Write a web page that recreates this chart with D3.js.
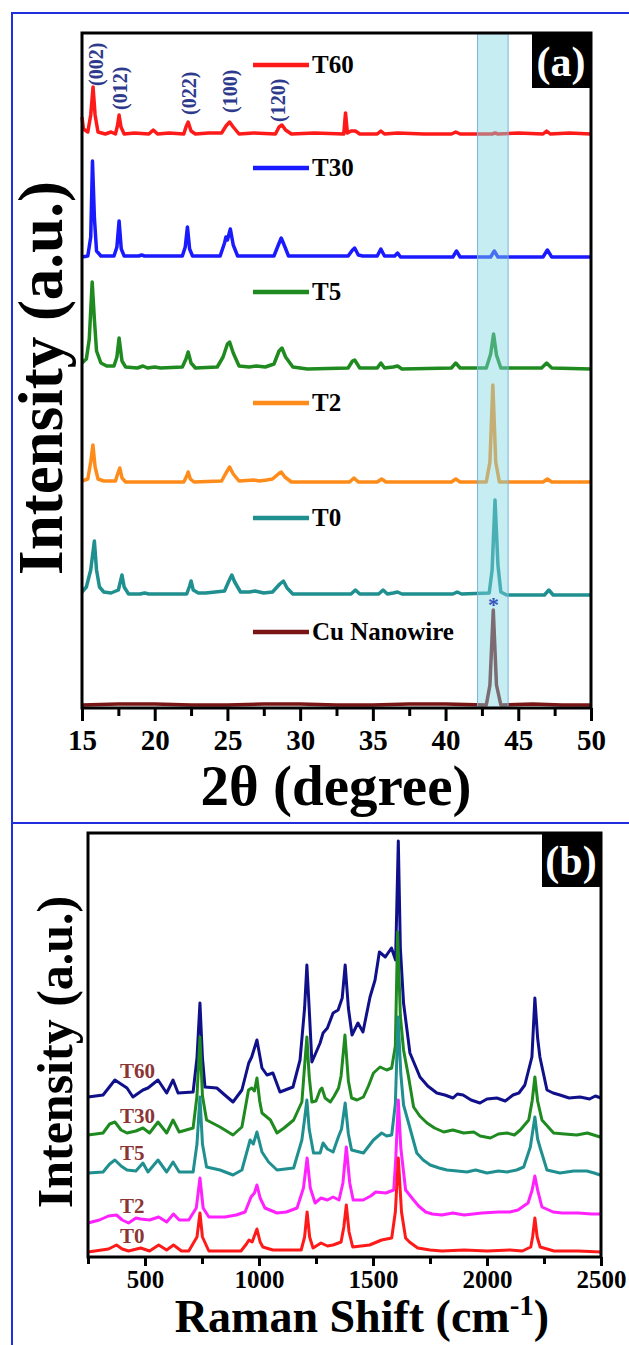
<!DOCTYPE html>
<html>
<head>
<meta charset="utf-8">
<script src="https://cdn.jsdelivr.net/npm/d3@7"></script>
<style>
  body { margin: 0; background: #fff; }
  text { font-family: "Liberation Serif", "Times New Roman", serif; font-weight: bold; }
</style>
</head>
<body>
<svg id="fig" width="629" height="1345"></svg>
<script>
// ---------- (a) XRD data: [2theta, intensity above own baseline] ----------
let xrdNames = ['T60', 'T30', 'T5', 'T2', 'T0', 'Cu Nanowire'];
let xrdOffsets = [573, 451, 339, 226, 113, 3];

let xrdT60 = [[15.0, 18], [15.1, 6], [15.4, 3], [15.6, 20], [15.76, 48], [15.9, 20], [16.1, 3], [16.6, 1], [17.0, 3], [17.3, 1],
  [17.45, 10], [17.55, 20], [17.68, 8], [17.9, 1], [18.6, 2], [19.6, 1], [19.9, 5], [20.2, 1], [21.0, 2], [22.0, 1], [22.15, 8], [22.3, 13],
  [22.5, 4], [22.8, 1], [23.7, 2], [24.6, 2], [24.9, 9], [25.15, 13], [25.4, 8], [25.8, 1], [26.8, 2], [28.3, 1], [28.55, 8], [28.75, 10],
  [29.0, 5], [29.4, 1], [31.0, 2], [33.0, 1], [33.12, 22], [33.25, 2], [33.5, 4], [33.8, 4], [34.1, 1], [35.3, 1], [35.55, 4], [35.8, 1],
  [36.7, 2], [38.5, 1], [40.4, 1], [40.7, 3], [41.0, 1], [43.2, 1], [43.4, 2], [43.6, 1], [45.0, 2], [46.7, 1], [46.95, 4], [47.2, 1],
  [48.5, 2], [50, 1]];
let xrdT30 = [[15.0, 0], [15.4, 1], [15.6, 20], [15.72, 96], [15.85, 40], [16.0, 6], [16.3, 1], [17.2, 1], [17.4, 10], [17.55, 36],
  [17.7, 8], [17.9, 1], [18.9, 1], [19.1, 2], [19.3, 1], [21.9, 1], [22.1, 10], [22.25, 30], [22.4, 8], [22.6, 1], [24.5, 1], [24.8, 14],
  [24.9, 20], [25.0, 17], [25.2, 28], [25.4, 12], [25.7, 1], [28.2, 1], [28.5, 12], [28.7, 19], [28.9, 12], [29.2, 1], [33.3, 1],
  [33.6, 7], [33.75, 9], [34.0, 2], [34.3, 1], [35.3, 1], [35.55, 8], [35.8, 1], [36.5, 1], [36.7, 4], [36.9, 0], [40.5, 0], [40.75, 6],
  [41.0, 0], [43.1, 0], [43.35, 6], [43.6, 0], [46.7, 0], [47.0, 7], [47.3, 0], [50, 0]];
let xrdT5 = [[15.0, 6], [15.3, 10], [15.5, 30], [15.7, 87], [15.85, 50], [16.0, 18], [16.3, 6], [16.7, 3], [17.2, 3], [17.4, 12],
  [17.55, 31], [17.75, 8], [18.0, 2], [18.8, 1], [19.2, 3], [19.5, 1], [20.0, 2], [20.4, 1], [21.9, 2], [22.15, 10], [22.3, 17],
  [22.5, 6], [22.8, 1], [24.3, 2], [24.7, 12], [25.0, 25], [25.15, 27], [25.4, 16], [25.8, 3], [26.5, 2], [27.0, 3], [27.6, 2],
  [28.2, 5], [28.55, 18], [28.75, 21], [29.0, 12], [29.5, 2], [30.5, 0], [33.3, 1], [33.6, 8], [33.75, 9], [34.1, 1], [35.3, 1],
  [35.55, 6], [35.8, 1], [36.4, 2], [36.7, 3], [37.0, 0], [40.4, 1], [40.7, 6], [41.0, 1], [42.8, 1], [43.1, 15], [43.3, 35],
  [43.5, 14], [43.8, 1], [46.6, 1], [46.95, 6], [47.3, 1], [50, 0]];
let xrdT2 = [[15.0, 1], [15.4, 3], [15.6, 20], [15.75, 37], [15.9, 15], [16.1, 3], [16.5, 1], [17.3, 1], [17.45, 8], [17.6, 14],
  [17.75, 4], [18.0, 0], [22.0, 0], [22.2, 6], [22.3, 10], [22.45, 3], [22.7, 0], [24.6, 1], [24.9, 9], [25.15, 15], [25.4, 8],
  [25.8, 1], [26.8, 2], [27.2, 1], [27.7, 2], [28.1, 3], [28.5, 8], [28.7, 10], [28.95, 5], [29.4, 0], [33.4, 0], [33.7, 4], [34.0, 0],
  [35.3, 0], [35.6, 3], [35.9, 0], [40.4, 0], [40.7, 3], [41.0, 0], [42.8, 0], [43.05, 20], [43.25, 97], [43.45, 20], [43.7, 0],
  [46.7, 0], [47.0, 3], [47.3, 0], [50, 0]];
let xrdT0 = [[15.0, 3], [15.3, 8], [15.6, 25], [15.85, 54], [16.0, 25], [16.2, 8], [16.5, 3], [17.0, 2], [17.5, 5], [17.75, 20],
  [17.9, 8], [18.2, 1], [19.0, 1], [19.3, 2], [19.6, 1], [20.3, 1], [22.2, 1], [22.4, 9], [22.5, 14], [22.65, 5], [23.0, 2], [23.5, 2],
  [24.8, 4], [25.1, 14], [25.3, 20], [25.5, 13], [25.9, 3], [26.5, 3], [26.9, 4], [27.5, 2], [28.1, 3], [28.6, 11], [28.85, 14],
  [29.1, 7], [29.5, 1], [33.5, 1], [33.8, 5], [34.1, 1], [35.4, 1], [35.7, 5], [36.0, 1], [36.4, 2], [36.7, 3], [37.0, 1], [40.5, 1],
  [40.8, 3], [41.1, 1], [43.0, 2], [43.2, 25], [43.4, 95], [43.6, 30], [43.8, 3], [44.2, 0], [46.8, 0], [47.1, 5], [47.4, 0], [50, 0]];
let xrdCu = [[15, 0], [17.5, 1], [20, 1], [22.5, 0], [25, 0], [27.5, 1], [30, 1], [32.5, 0], [35, 0], [37.5, 1], [40, 1], [42.8, 0],
  [43.05, 20], [43.28, 95], [43.5, 20], [43.8, 0], [46, 1], [48, 0], [50, 0]];
let xrdData = [xrdT60, xrdT30, xrdT5, xrdT2, xrdT0, xrdCu];

let millerLabels = ['(002)', '(012)', '(022)', '(100)', '(120)'];
let millerPos = [15.96, 17.6, 22.34, 25.2, 28.5];
let millerBase = [622, 598, 593, 595, 586];

let bandRange = [42.2, 44.3];
let xrdTicks = [15, 20, 25, 30, 35, 40, 45, 50];
let xrdMinor = [17.5, 22.5, 27.5, 32.5, 37.5, 42.5, 47.5];

// ---------- (b) Raman data: [shift, intensity above own baseline] ----------
let ramanNames = ['T60', 'T30', 'T5', 'T2', 'T0'];
let ramanOffsets = [159, 121, 83, 39, 5];

let ramanT60 = [[250, 1], [316, 3], [368, 18], [421, 10], [447, 1], [491, 8], [513, 10], [557, 18], [595, 5], [623, 18], [645, 5],
  [711, 6], [728, 40], [741, 95], [752, 40], [763, 11], [815, 10], [850, 3], [886, -4], [925, 8], [955, 35], [968, 41], [991, 58],
  [1013, 30], [1035, 23], [1061, 25], [1092, 6], [1149, 11], [1180, 38], [1200, 90], [1210, 133], [1220, 90], [1232, 36], [1268, 55],
  [1281, 65], [1300, 70], [1325, 85], [1347, 88], [1365, 100], [1378, 133], [1392, 90], [1408, 63], [1434, 75], [1456, 66], [1487, 101],
  [1509, 118], [1528, 146], [1554, 141], [1581, 150], [1599, 138], [1611, 257], [1620, 150], [1634, 95], [1662, 45], [1706, 21],
  [1740, 12], [1780, 5], [1815, 3], [1851, 0], [1870, 4], [1895, 3], [1930, -2], [1969, -5], [2000, -1], [2043, 0], [2080, -3],
  [2114, 3], [2140, 5], [2166, 13], [2197, 41], [2210, 100], [2222, 60], [2232, 41], [2263, 8], [2290, 5], [2320, 3], [2360, 0],
  [2408, 1], [2450, -1], [2475, 2], [2500, 0]];
let ramanT30 = [[250, 1], [316, 3], [345, 12], [368, 14], [395, 6], [421, 3], [460, 5], [491, 8], [520, 3], [557, 14], [595, 3],
  [623, 16], [650, 4], [711, 8], [728, 40], [741, 99], [752, 40], [770, 16], [829, 9], [886, 1], [925, 9], [954, 46], [968, 48],
  [980, 45], [991, 58], [1003, 35], [1013, 23], [1050, 16], [1079, 3], [1110, 8], [1152, 16], [1188, 34], [1200, 70], [1210, 99],
  [1220, 60], [1232, 34], [1250, 35], [1268, 46], [1276, 48], [1290, 38], [1313, 34], [1330, 40], [1349, 48], [1360, 60], [1377, 101],
  [1392, 55], [1406, 38], [1430, 36], [1458, 39], [1480, 50], [1502, 63], [1531, 69], [1560, 66], [1582, 68], [1598, 90], [1608, 204],
  [1620, 120], [1634, 86], [1656, 59], [1678, 29], [1705, 20], [1737, 13], [1770, 8], [1810, 4], [1850, 6], [1898, 3], [1942, 4],
  [1970, 0], [2015, -2], [2050, 2], [2088, 3], [2120, 1], [2146, 6], [2183, 16], [2198, 35], [2210, 59], [2222, 35], [2241, 16],
  [2292, 3], [2340, 2], [2394, 1], [2440, 3], [2496, -1], [2500, 0]];
let ramanT5 = [[250, 1], [316, 2], [345, 10], [368, 14], [395, 8], [421, 4], [460, 3], [491, 11], [513, 2], [557, 14], [595, 2],
  [623, 12], [650, 2], [711, 2], [728, 30], [741, 77], [752, 30], [770, 7], [829, 4], [886, -1], [925, 4], [961, 34], [975, 30],
  [991, 42], [1013, 22], [1042, 12], [1079, 4], [1152, 6], [1188, 34], [1200, 55], [1210, 74], [1220, 45], [1239, 21], [1268, 21],
  [1281, 31], [1300, 25], [1325, 22], [1348, 37], [1362, 45], [1378, 71], [1392, 40], [1406, 24], [1458, 21], [1502, 34], [1538, 41],
  [1560, 38], [1582, 39], [1598, 70], [1610, 157], [1622, 100], [1634, 69], [1656, 51], [1692, 21], [1720, 14], [1751, 9], [1790, 6],
  [1824, 4], [1870, 3], [1912, 2], [1950, 4], [2000, 1], [2050, 3], [2088, 2], [2130, 4], [2161, 7], [2190, 27], [2210, 57],
  [2222, 35], [2232, 27], [2263, 4], [2320, 1], [2380, 3], [2438, 3], [2470, 1], [2496, -1], [2500, 0]];
let ramanT2 = [[250, -5], [300, -2], [340, 2], [375, 3], [400, -2], [428, -5], [460, 0], [481, -1], [520, -2], [560, 1], [595, -4],
  [625, 4], [650, -2], [692, -2], [725, 10], [741, 40], [755, 10], [780, 1], [851, 1], [900, 3], [939, 6], [965, 21], [980, 25],
  [991, 33], [1005, 20], [1026, 10], [1079, 5], [1120, 6], [1167, 10], [1195, 30], [1211, 60], [1225, 30], [1246, 15], [1272, 20],
  [1300, 18], [1325, 21], [1351, 18], [1368, 35], [1383, 71], [1398, 35], [1413, 18], [1457, 18], [1490, 22], [1512, 26], [1556, 25],
  [1591, 28], [1600, 60], [1611, 118], [1622, 70], [1643, 28], [1678, 18], [1700, 12], [1731, 6], [1760, 4], [1802, 3], [1850, 5],
  [1900, 3], [1978, 5], [2050, 6], [2100, 6], [2136, 8], [2180, 15], [2198, 28], [2210, 42], [2222, 28], [2241, 11], [2290, 6],
  [2329, 5], [2400, 5], [2460, 4], [2500, 4]];
let ramanT0 = [[250, 0], [340, 3], [375, 7], [400, 3], [428, 1], [481, 4], [520, 1], [560, 7], [595, 2], [625, 7], [660, 1], [692, 1],
  [728, 15], [741, 39], [752, 15], [780, 1], [921, 1], [945, 8], [956, 12], [970, 10], [991, 23], [1005, 10], [1017, 5], [1061, 2],
  [1185, 2], [1200, 15], [1211, 40], [1222, 15], [1237, 4], [1272, 9], [1300, 6], [1325, 7], [1360, 10], [1372, 25], [1383, 47],
  [1395, 20], [1411, 5], [1485, 7], [1538, 12], [1582, 14], [1598, 40], [1611, 94], [1625, 40], [1643, 14], [1660, 10], [1696, 4],
  [1750, 2], [1802, 1], [1900, 2], [2000, 1], [2100, 2], [2155, 1], [2192, 5], [2200, 15], [2210, 34], [2220, 15], [2233, 5],
  [2294, 1], [2400, 1], [2500, 0]];
let ramanData = [ramanT60, ramanT30, ramanT5, ramanT2, ramanT0];
let ramanTicks = [500, 1000, 1500, 2000, 2500];
let ramanMinor = [250, 750, 1250, 1750, 2250];

let xrdColors = ['#ff1a1a', '#1a1aff', '#1f8a1f', '#ff8c1a', '#1f8f8f', '#7a1515'];
let ramanColors = ['#10108a', '#1f8a1f', '#1f8f8f', '#ff22ff', '#ff1a1a'];

let svg = d3.select('#fig');

// outer blue frame
svg.append('path')
  .attr('d', 'M12,1345 L12,13 L640,13 M12,823 L640,823')
  .attr('fill', 'none')
  .attr('stroke', '#1f2fe0')
  .attr('stroke-width', 2);

// ================= panel (a) =================
let xA = d3.scaleLinear().domain([15, 50]).range([82, 591]);
let yA = d3.scaleLinear().domain([0, 675]).range([708, 33]);

let lineA = function (off) {
  return d3.line()
    .x(function (d) { return xA(d[0]); })
    .y(function (d) { return yA(off + d[1]); });
};

let gA = svg.append('g');

xrdData.forEach(function (s, i) {
  gA.append('path')
    .datum(s)
    .attr('fill', 'none')
    .attr('stroke', xrdColors[i])
    .attr('stroke-width', 3.5)
    .attr('stroke-linejoin', 'round')
    .attr('d', lineA(xrdOffsets[i]));
});

// highlighted Cu(111) band
gA.append('rect')
  .attr('x', xA(bandRange[0]))
  .attr('y', yA(675))
  .attr('width', xA(bandRange[1]) - xA(bandRange[0]))
  .attr('height', yA(0) - yA(675))
  .attr('fill', '#7fd6e2')
  .attr('fill-opacity', 0.45)
  .attr('stroke', '#78b4dc')
  .attr('stroke-width', 1);

gA.append('text')
  .attr('x', xA(43.3))
  .attr('y', 612)
  .attr('text-anchor', 'middle')
  .attr('fill', '#3355bb')
  .style('font-size', '22px')
  .text('*');

// miller indices
millerLabels.forEach(function (m, i) {
  gA.append('text')
    .attr('transform', 'translate(' + (xA(millerPos[i]) + 7) + ',' + yA(millerBase[i]) + ') rotate(-90)')
    .attr('fill', '#2e3a8c')
    .style('font-size', '20px')
    .text(m);
});

// legend
let legA = [65, 168, 292, 403, 518, 632];
xrdNames.forEach(function (n, i) {
  gA.append('line')
    .attr('x1', 253).attr('x2', 309)
    .attr('y1', legA[i]).attr('y2', legA[i])
    .attr('stroke', xrdColors[i])
    .attr('stroke-width', 4.5);
  gA.append('text')
    .attr('x', 312)
    .attr('y', legA[i] + 8)
    .style('font-size', '25px')
    .text(n);
});

// axes
let axA = gA.append('g').attr('transform', 'translate(0,708)')
  .call(d3.axisBottom(xA).tickValues(xrdTicks).tickSize(13).tickFormat(d3.format('d')));
axA.select('.domain').remove();
axA.selectAll('line').attr('stroke-width', 3);
axA.selectAll('text').attr('y', 42).attr('dy', 0).style('font-size', '29px').attr('fill', '#000');

let axAm = gA.append('g').attr('transform', 'translate(0,708)')
  .call(d3.axisBottom(xA).tickValues(xrdMinor).tickSize(8).tickFormat(''));
axAm.select('.domain').remove();
axAm.selectAll('line').attr('stroke-width', 3);

gA.append('rect')
  .attr('x', 82).attr('y', 33)
  .attr('width', 509).attr('height', 675)
  .attr('fill', 'none').attr('stroke', '#000').attr('stroke-width', 3);

gA.append('rect')
  .attr('x', 532).attr('y', 33).attr('width', 59).attr('height', 55)
  .attr('fill', '#000');
gA.append('text')
  .attr('x', 561).attr('y', 76)
  .attr('text-anchor', 'middle').attr('fill', '#fff')
  .style('font-size', '42px')
  .text('(a)');

gA.append('text')
  .attr('x', 336).attr('y', 805)
  .attr('text-anchor', 'middle')
  .style('font-size', '57px')
  .text('2θ (degree)');

gA.append('text')
  .attr('transform', 'translate(62,378) rotate(-90)')
  .attr('text-anchor', 'middle')
  .style('font-size', '63px')
  .text('Intensity (a.u.)');

// ================= panel (b) =================
let xB = d3.scaleLinear().domain([250, 2500]).range([88, 601]);
let yB = d3.scaleLinear().domain([0, 424]).range([1257, 833]);

let lineB = function (off) {
  return d3.line()
    .x(function (d) { return xB(d[0]); })
    .y(function (d) { return yB(off + d[1]); });
};

let gB = svg.append('g');

ramanData.forEach(function (s, i) {
  gB.append('path')
    .datum(s)
    .attr('fill', 'none')
    .attr('stroke', ramanColors[i])
    .attr('stroke-width', 3)
    .attr('stroke-linejoin', 'round')
    .attr('d', lineB(ramanOffsets[i]));
});

let labB = [1078, 1123, 1160, 1213, 1243];
ramanNames.forEach(function (n, i) {
  gB.append('text')
    .attr('x', 120).attr('y', labB[i])
    .attr('fill', '#8b3535')
    .style('font-size', '21px')
    .text(n);
});

let axB = gB.append('g').attr('transform', 'translate(0,1257)')
  .call(d3.axisBottom(xB).tickValues(ramanTicks).tickSize(9).tickFormat(d3.format('d')));
axB.select('.domain').remove();
axB.selectAll('line').attr('stroke-width', 3);
axB.selectAll('text').attr('y', 31).attr('dy', 0).style('font-size', '25px').attr('fill', '#000');

let axBm = gB.append('g').attr('transform', 'translate(0,1257)')
  .call(d3.axisBottom(xB).tickValues(ramanMinor).tickSize(7).tickFormat(''));
axBm.select('.domain').remove();
axBm.selectAll('line').attr('stroke-width', 3);

gB.append('rect')
  .attr('x', 88).attr('y', 833)
  .attr('width', 513).attr('height', 424)
  .attr('fill', 'none').attr('stroke', '#000').attr('stroke-width', 3);

gB.append('rect')
  .attr('x', 542).attr('y', 833).attr('width', 59).attr('height', 54)
  .attr('fill', '#000');
gB.append('text')
  .attr('x', 571).attr('y', 875)
  .attr('text-anchor', 'middle').attr('fill', '#fff')
  .style('font-size', '42px')
  .text('(b)');

let tB = gB.append('text')
  .attr('x', 362).attr('y', 1332)
  .attr('text-anchor', 'middle')
  .style('font-size', '46px');
tB.append('tspan').text('Raman Shift (cm');
tB.append('tspan').attr('dy', -17).style('font-size', '29px').text('-1');
tB.append('tspan').attr('dy', 17).text(')');

gB.append('text')
  .attr('transform', 'translate(72,1052) rotate(-90)')
  .attr('text-anchor', 'middle')
  .style('font-size', '50px')
  .text('Intensity (a.u.)');
</script>
</body>
</html>
